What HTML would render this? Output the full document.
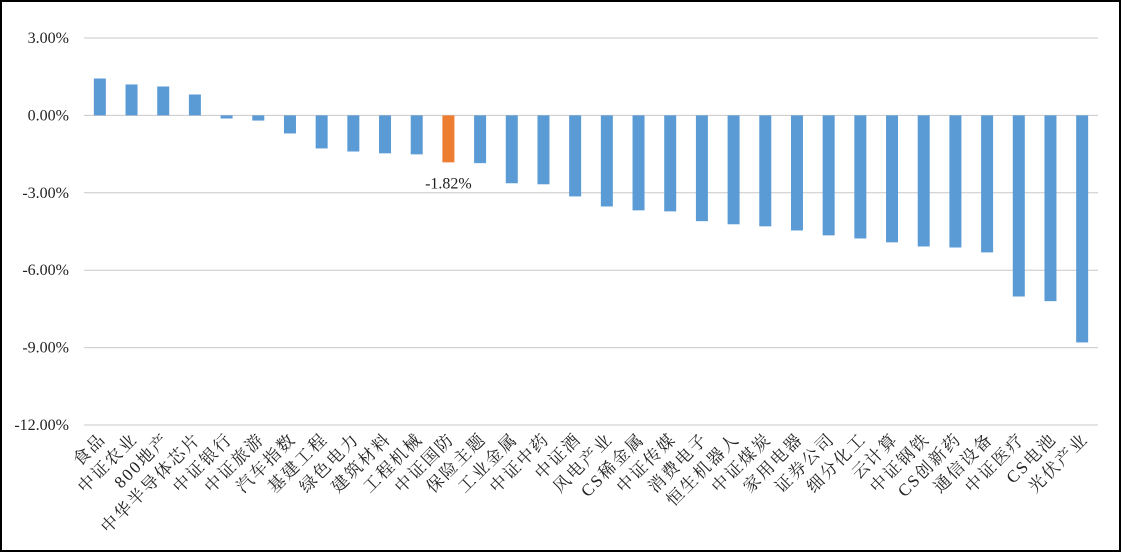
<!DOCTYPE html>
<html><head><meta charset="utf-8"><style>
html,body{margin:0;padding:0;background:#fff}
svg{display:block}
text{font-family:"Liberation Serif","Noto Serif CJK SC",serif;fill:#222}
</style></head><body>
<svg id="chart" width="1121" height="552" viewBox="0 0 1121 552">
<rect x="1" y="1" width="1119" height="550" fill="#fff" stroke="#000" stroke-width="2"/>
<g id="grid"></g><g id="bars"></g><g id="labels"></g>
</svg>
<script>
const categories=["食品","中证农业","800地产","中华半导体芯片","中证银行","中证旅游","汽车指数","基建工程","绿色电力","建筑材料","工程机械","中证国防","保险主题","工业金属","中证中药","中证酒","风电产业","CS稀金属","中证传媒","消费电子","恒生机器人","中证煤炭","家用电器","证券公司","细分化工","云计算","中证钢铁","CS创新药","通信设备","中证医疗","CS电池","光伏产业"];
const values=[1.43,1.2,1.12,0.81,-0.12,-0.2,-0.7,-1.28,-1.4,-1.47,-1.51,-1.82,-1.85,-2.63,-2.67,-3.14,-3.53,-3.68,-3.72,-4.1,-4.22,-4.3,-4.46,-4.65,-4.77,-4.92,-5.08,-5.12,-5.31,-7.02,-7.2,-8.8];
const ticks=[3,0,-3,-6,-9,-12];
const highlight="中证国防";
const NS="http://www.w3.org/2000/svg";
const x0=84,x1=1098,yTop=38,yBot=425,vMax=3,vMin=-12;
const y=v=>yTop+(vMax-v)/(vMax-vMin)*(yBot-yTop);
const band=(x1-x0)/categories.length;
const xc=i=>x0+band*(i+0.5);
function mk(tag,attrs,parent){const e=document.createElementNS(NS,tag);for(const k in attrs)e.setAttribute(k,attrs[k]);parent.appendChild(e);return e;}
const grid=document.getElementById('grid'),bars=document.getElementById('bars'),labels=document.getElementById('labels');
ticks.forEach(t=>{
 const l=mk('line',{x1:x0,x2:x1,y1:y(t),y2:y(t),stroke:'#c8c8c8','stroke-width':1},grid);
 
 
 const tx=mk('text',{x:69,y:y(t)+5,'text-anchor':'end','font-size':16},grid);
 tx.textContent=t.toFixed(2)+'%';
 
 
});
const bw=12;
categories.forEach((c,i)=>{
 const v=values[i];
 const top=Math.min(y(v),y(0)),h=Math.abs(y(v)-y(0));
 const r=mk('rect',{x:xc(i)-bw/2,y:top,width:bw,height:Math.max(h,1),fill:c===highlight?'#ed7d31':'#5b9bd5'},bars);
 
 
 if(c===highlight){
  const dl=mk('text',{x:xc(i),y:y(v)+26,'text-anchor':'middle','font-size':16},labels);
  dl.textContent=v.toFixed(2)+'%';
  
  
 }
 const lx=xc(i)+7,ly=440;
 const t=mk('text',{x:lx,y:ly,'text-anchor':'end','font-size':17,'letter-spacing':2,transform:`rotate(-45 ${lx} ${ly})`},labels);
 t.textContent=c;
 
 
});
</script>
</body></html>
